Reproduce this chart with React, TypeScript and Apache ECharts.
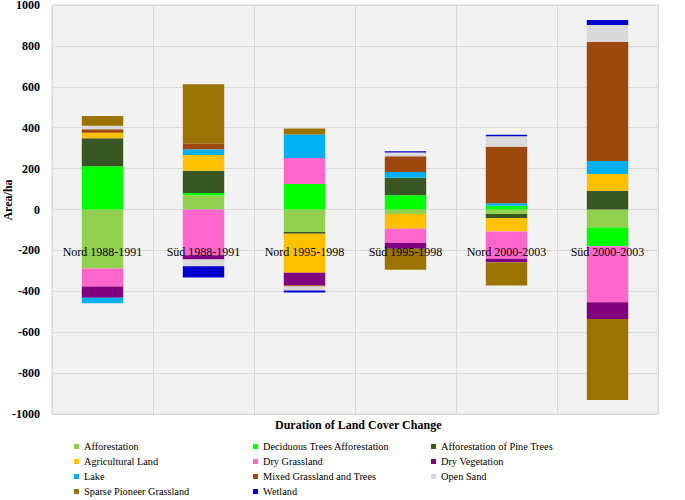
import React, { useEffect, useRef } from "react";
import * as echarts from "echarts";

const categories = [
  "Nord 1988-1991",
  "Süd 1988-1991",
  "Nord 1995-1998",
  "Süd 1995-1998",
  "Nord 2000-2003",
  "Süd 2000-2003",
];

const seriesNames = [
  "Afforestation",
  "Deciduous Trees Afforestation",
  "Afforestation of Pine Trees",
  "Agricultural Land",
  "Dry Grassland",
  "Dry Vegetation",
  "Lake",
  "Mixed Grassland and Trees",
  "Open Sand",
  "Sparse Pioneer Grassland",
  "Wetland",
];

const afforestation = [-288, 70, -110, -22, -22, -88];
const deciduous = [212, 11, 125, 70, 18, -92];
const pineTrees = [136, 108, -8, 85, -20, 90];
const agricultural = [27, 77, -191, -72, -65, 83];
const dryGrassland = [-88, -224, 127, -69, -134, -273];
const dryVegetation = [-55, -20, -62, -29, -17, -82];
const lake = [-28, 29, 115, 28, 12, 64];
const mixedGrassland = [18, 28, -5, 78, 277, 582];
const openSand = [16, -34, -20, 18, 51, 83];
const sparsePioneer = [48, 289, 29, -103, -114, -397];
const wetland = [0, -55, -10, 6, 8, 25];

const seriesValues = [
  afforestation,
  deciduous,
  pineTrees,
  agricultural,
  dryGrassland,
  dryVegetation,
  lake,
  mixedGrassland,
  openSand,
  sparsePioneer,
  wetland,
];

const colors = [
  "#92d050",
  "#00ff00",
  "#385723",
  "#ffc000",
  "#ff66cc",
  "#800080",
  "#00b0f0",
  "#9e480e",
  "#d9d9d9",
  "#9a7300",
  "#0000cc",
];

const legendCol1 = [seriesNames[0], seriesNames[3], seriesNames[6], seriesNames[9]];
const legendCol2 = [seriesNames[1], seriesNames[4], seriesNames[7], seriesNames[10]];
const legendCol3 = [seriesNames[2], seriesNames[5], seriesNames[8]];

const FONT = "'Liberation Serif', 'Times New Roman', serif";

const GRID_TOP = 5;
const GRID_BOTTOM = 86;
const CHART_H = 500;

export default function App() {
  const ref = useRef<HTMLDivElement>(null);

  useEffect(() => {
    if (!ref.current) return;
    const chart = echarts.init(ref.current, null, { renderer: "svg" });

    const plotH = CHART_H - GRID_TOP - GRID_BOTTOM;
    // move the category axis up from the grid bottom to the zero line (centre of a symmetric range)
    const zeroOffset = -plotH / 2;

    const legendBase = {
      orient: "vertical" as const,
      top: 440,
      icon: "rect",
      itemWidth: 5,
      itemHeight: 5,
      itemGap: 2,
      padding: 0,
      textStyle: { fontFamily: FONT, fontSize: 10.3, color: "#000", lineHeight: 13 },
    };

    chart.setOption({
      animation: false,
      color: colors,
      textStyle: { fontFamily: FONT },
      grid: {
        left: 52,
        right: 27,
        top: GRID_TOP,
        bottom: GRID_BOTTOM,
        outerBoundsMode: "none",
        containLabel: false,
        show: true,
        backgroundColor: "#f2f2f2",
        borderColor: "#d9d9d9",
        borderWidth: 1,
      },
      legend: [
        { ...legendBase, left: 74, data: legendCol1 },
        { ...legendBase, left: 253, data: legendCol2 },
        { ...legendBase, left: 431, data: legendCol3 },
      ],
      graphic: [
        {
          type: "text",
          left: 275,
          top: 419,
          style: {
            text: "Duration of Land Cover Change",
            font: "bold 12px " + FONT,
            fill: "#000",
          },
        },
        {
          type: "text",
          x: 8,
          y: 200,
          rotation: Math.PI / 2,
          style: {
            text: "Area/ha",
            font: "bold 12px " + FONT,
            fill: "#000",
            align: "center",
            verticalAlign: "middle",
          },
        },
      ],
      xAxis: [
        {
          type: "category",
          data: categories,
          position: "bottom",
          offset: zeroOffset,
          z: 10,
          axisLine: { show: false, onZero: false },
          axisTick: { show: false },
          axisLabel: {
            interval: 0,
            margin: 36,
            fontSize: 12,
            color: "#000",
            fontFamily: FONT,
          },
          splitLine: { show: true, interval: 0, lineStyle: { color: "#d9d9d9", width: 1 } },
        },
      ],
      yAxis: {
        type: "value",
        min: -1000,
        max: 1000,
        interval: 200,
        axisLine: { show: false },
        axisTick: { show: false },
        axisLabel: {
          fontFamily: FONT,
          fontSize: 12,
          fontWeight: "bold",
          color: "#000",
          margin: 12,
          lineHeight: 10,
          formatter: (v: number) => String(v),
        },
        splitLine: { show: true, lineStyle: { color: "#d9d9d9", width: 1 } },
      },
      series: seriesNames.map((name, i) => ({
        name,
        type: "bar",
        stack: "total",
        barWidth: "41%",
        z: 2,
        data: seriesValues[i],
        itemStyle: { color: colors[i] },
      })),
    });

    return () => chart.dispose();
  }, []);

  return (
    <div
      ref={ref}
      style={{ position: "absolute", left: 0, top: 0, width: 685, height: 500 }}
    />
  );
}
